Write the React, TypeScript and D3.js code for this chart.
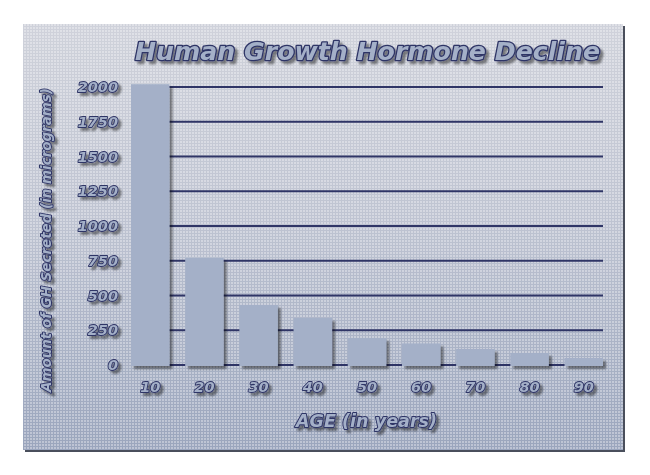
import * as d3 from 'd3';
import React from "react";

const ages = ['10', '20', '30', '40', '50', '60', '70', '80', '90'];
const ghAmounts = [2020, 770, 432, 338, 194, 155, 115, 86, 50];
const yTicks = [0, 250, 500, 750, 1000, 1250, 1500, 1750, 2000];

const chartTitle = 'Human Growth Hormone Decline';
const xTitle = 'AGE (in years)';
const yTitle = 'Amount of GH Secreted (in micrograms)';

const W = 650;
const H = 475;

const INK = '#2f3566';
const FILL = '#a4b0c8';
const FONT = '"DejaVu Sans", Verdana, sans-serif';

const App: React.FC = () => {
    const x = d3.scaleBand<string>()
        .domain(ages)
        .range([131, 603])
        .paddingInner(0.29)
        .paddingOuter(0);

    const y = d3.scaleLinear()
        .domain([0, 2000])
        .range([365, 87]);

    const labelStyle = {
        fontFamily: FONT,
        fontWeight: 'bold' as const,
        fontStyle: 'italic' as const,
        fill: FILL,
        stroke: INK,
        strokeWidth: 1.8,
        paintOrder: 'stroke' as const,
        strokeLinejoin: 'round' as const,
    };

    return (
        <svg width={W} height={H} style={{ position: 'absolute', left: 0, top: 0, background: '#fff' }}>
            <defs>
                <linearGradient id="bg" x1="0" y1="0" x2="0" y2="1">
                    <stop offset="0" stopColor="#f6f7f9" />
                    <stop offset="0.45" stopColor="#e0e4ed" />
                    <stop offset="1" stopColor="#afbbd1" />
                </linearGradient>
                <pattern id="dots" width="3" height="3" patternUnits="userSpaceOnUse">
                    <rect width="3" height="3" fill="#5a6380" fillOpacity="0.25" />
                    <rect width="2" height="2" fill="#ffffff" fillOpacity="0.35" />
                </pattern>
                <filter id="shadow" x="-20%" y="-20%" width="150%" height="150%">
                    <feGaussianBlur in="SourceAlpha" stdDeviation="1.2" />
                    <feOffset dx="2.5" dy="2.5" result="b" />
                    <feComponentTransfer>
                        <feFuncA type="linear" slope="0.45" />
                    </feComponentTransfer>
                    <feMerge>
                        <feMergeNode />
                        <feMergeNode in="SourceGraphic" />
                    </feMerge>
                </filter>
            </defs>

            {/* panel */}
            <rect x={25} y={26} width={600} height={426} fill="#4a4f5c" />
            <rect x={23} y={24} width={600} height={426} fill="url(#bg)" />
            <rect x={23} y={24} width={600} height={426} fill="url(#dots)" />

            {/* grid lines */}
            {yTicks.map(t => (
                <line key={t} x1={x.range()[0]} x2={x.range()[1]} y1={y(t)} y2={y(t)}
                    stroke={INK} strokeWidth={2} />
            ))}

            {/* bars */}
            <g filter="url(#shadow)">
                {ages.map((a, i) => (
                    <rect key={a} x={x(a)} y={y(ghAmounts[i])} width={x.bandwidth()}
                        height={y(0) - y(ghAmounts[i]) + 1} fill={FILL} />
                ))}
            </g>

            {/* y tick labels */}
            <g filter="url(#shadow)">
                {yTicks.map(t => (
                    <text key={t} x={118} y={y(t)} dy="0.36em" textAnchor="end"
                        fontSize={14.5} style={labelStyle}>{t}</text>
                ))}
            </g>

            {/* x tick labels */}
            <g filter="url(#shadow)">
                {ages.map(a => (
                    <text key={a} x={(x(a) ?? 0) + x.bandwidth() / 2} y={392} textAnchor="middle"
                        fontSize={14.5} style={labelStyle}>{a}</text>
                ))}
            </g>

            {/* titles */}
            <g filter="url(#shadow)">
                <text x={135} y={60} fontSize={25} textLength={465} lengthAdjust="spacingAndGlyphs"
                    style={{ ...labelStyle, strokeWidth: 2.6 }}>{chartTitle}</text>
                <text x={296} y={427} fontSize={18} textLength={141} lengthAdjust="spacingAndGlyphs"
                    style={{ ...labelStyle, strokeWidth: 2 }}>{xTitle}</text>
                <text transform="translate(51,392) rotate(-90)" x={0} y={0} fontSize={14}
                    textLength={304} lengthAdjust="spacingAndGlyphs"
                    style={{ ...labelStyle, strokeWidth: 1.8 }}>{yTitle}</text>
            </g>
        </svg>
    );
};

export default App;
